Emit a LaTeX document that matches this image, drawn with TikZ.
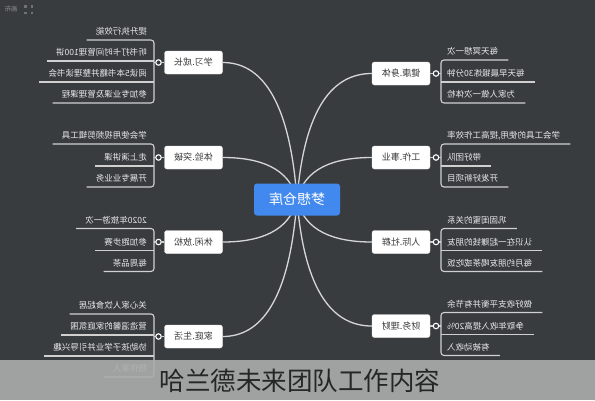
\documentclass[tikz,border=0pt]{standalone}
\usepackage{fontspec}
\usepackage{graphicx}
\usetikzlibrary{calc}
\newfontfamily\cjk{Noto Sans CJK SC}
\definecolor{bg}{HTML}{393C3F}
\definecolor{rootblue}{HTML}{4189EE}
\definecolor{textdark}{HTML}{3A3A3A}
\definecolor{leaftext}{HTML}{E8E8E8}
\definecolor{curvecol}{HTML}{D6D6D6}
\definecolor{twigcol}{HTML}{D0D0D0}
\definecolor{bandcol}{HTML}{ACACAC}
\definecolor{uigray}{HTML}{8A8A8A}
\newcommand\mir[1]{\reflectbox{#1}}
% curve from root centre to a branch anchor
\newcommand\bcurve[1]{\draw[curve] let \p1=(rc), \p2=(#1) in (\p1) .. controls ({\x1+0.1*(\x2-\x1)},{\y1+0.75*(\y2-\y1)}) and ({\x1+0.5*(\x2-\x1)},\y2) .. (\p2);}
% right group with three leaves: id, cy, label, leaves
\newcommand\rightthree[6]{%
  \node[branch] (#1) at (401,#2) {\mir{#3}};
  \node[knob] (#1k) at (436,#2) {};
  \draw[twig] (#1.east) -- (#1k.west);
  \draw[twig] (#1k.east) -- (441,#2);
  \node[leaf,anchor=base west] (#1a) at (447,#2-19) {\mir{#4}};
  \node[leaf,anchor=base west] (#1b) at (447,#2+3) {\mir{#5}};
  \node[leaf,anchor=base west] (#1c) at (447,#2+24) {\mir{#6}};
  \draw[twig] ($(#1a.base east)+(10,5.5)$) -- (441,#2-13.5) -- (441,#2+29.5) -- ($(#1c.base east)+(10,5.5)$);
  \draw[twig] (441,#2+8.5) -- ($(#1b.base east)+(10,5.5)$);
}
\newcommand\leftthree[6]{%
  \node[branch] (#1) at (193.5,#2) {\mir{#3}};
  \node[knob] (#1k) at (158.5,#2) {};
  \draw[twig] (#1.west) -- (#1k.east);
  \draw[twig] (#1k.west) -- (154,#2);
  \node[leaf,anchor=base east] (#1a) at (147,#2-19) {\mir{#4}};
  \node[leaf,anchor=base east] (#1b) at (147,#2+3) {\mir{#5}};
  \node[leaf,anchor=base east] (#1c) at (147,#2+24) {\mir{#6}};
  \draw[twig] ($(#1a.base west)+(-9,5.5)$) -- (154,#2-13.5) -- (154,#2+29.5) -- ($(#1c.base west)+(-9,5.5)$);
  \draw[twig] (154,#2+8.5) -- ($(#1b.base west)+(-9,5.5)$);
}
\newcommand\leftfour[7]{%
  \node[branch] (#1) at (193.5,#2) {\mir{#3}};
  \node[knob] (#1k) at (158.5,#2) {};
  \draw[twig] (#1.west) -- (#1k.east);
  \draw[twig] (#1k.west) -- (154,#2);
  \node[leaf,anchor=base east] (#1a) at (147,#2-28) {\mir{#4}};
  \node[leaf,anchor=base east] (#1b) at (147,#2-7) {\mir{#5}};
  \node[leaf,anchor=base east] (#1c) at (147,#2+14) {\mir{#6}};
  \node[leaf,anchor=base east] (#1d) at (147,#2+35) {\mir{#7}};
  \draw[twig] ($(#1a.base west)+(-9,5.5)$) -- (154,#2-22.5) -- (154,#2+40.5) -- ($(#1d.base west)+(-9,5.5)$);
  \draw[twig] (154,#2-1.5) -- ($(#1b.base west)+(-9,5.5)$);
  \draw[twig] (154,#2+19.5) -- ($(#1c.base west)+(-9,5.5)$);
}
\begin{document}
\begin{tikzpicture}[x=1pt,y=-1pt,font=\cjk,
  branch/.style={draw=white!85!gray,fill=white,rounded corners=2.5pt,minimum width=58pt,minimum height=23pt,inner sep=0pt,text=textdark,font=\cjk\fontsize{9}{10}\selectfont},
  rootbox/.style={fill=rootblue,rounded corners=3pt,minimum width=86pt,minimum height=32pt,inner sep=0pt,text=white,font=\cjk\fontsize{14}{16}\selectfont},
  leaf/.style={inner sep=0pt,text=leaftext,font=\cjk\fontsize{8.5}{9}\selectfont},
  curve/.style={draw=curvecol,line width=1.3pt},
  twig/.style={draw=twigcol,line width=1.1pt,rounded corners=3pt},
  knob/.style={circle,draw=white,fill=bg,line width=1.1pt,minimum size=5.5pt,inner sep=0pt}]
\fill[bg] (0,0) rectangle (595,400);
\useasboundingbox (0,0) rectangle (595,400);
% top-left interface mark
\node[text=uigray,font=\cjk\fontsize{6.5}{7}\selectfont,inner sep=0pt] (ui) at (11,9) {\mir{画布}};
\foreach \px/\py in {24/5,30.5/5,24/11.5,30.5/11.5}
  \fill[uigray!120] (\px,\py) rectangle ++(2.6,2.6);
\coordinate (rc) at (297,199.5);
% right branches
\rightthree{hb}{73.5}{健康.身体}{每天冥想一次}{每天早晨锻炼30分钟}{为家人做一次体检}
\rightthree{wb}{157.5}{工作.事业}{学会工具的使用,提高工作效率}{带好团队}{开发好新项目}
\rightthree{pb}{242}{人际.社群}{巩固闺蜜的关系}{认识在一起赚钱的朋友}{每月约朋友喝茶或吃饭}
\rightthree{fb}{326}{财务.理财}{做好收支平衡并有节余}{争取年收入提高20\%}{有被动收入}
% left branches
\leftfour{lb}{62.5}{学习.成长}{提升执行效能}{听书打卡时间管理100讲}{阅读5本书籍并整理读书会}{参加专业课及管理课程}
\leftthree{eb}{157.5}{体验.突破}{学会使用视频剪辑工具}{走上演讲课}{开展专业业务}
\leftthree{rb}{242}{休闲.放松}{2020年旅游一次}{参加跑步赛}{每周品茶}
\leftfour{jb}{336.5}{家庭.生活}{关心家人饮食起居}{营造温馨的家庭氛围}{协助孩子学业并引导兴趣}{陪伴家人}
% curves from root
\bcurve{hb.west}
\bcurve{wb.west}
\bcurve{pb.west}
\bcurve{fb.west}
\bcurve{lb.east}
\bcurve{eb.east}
\bcurve{rb.east}
\bcurve{jb.east}
\node[rootbox] (root) at (rc) {\mir{梦想仓库}};
% caption band
\fill[bandcol,opacity=0.9] (0,360) rectangle (595,400);
\node[text=black!85,font=\cjk\fontsize{25.5}{27}\selectfont,inner sep=0pt] (cap) at (300,381) {哈兰德未来团队工作内容};
\end{tikzpicture}
\end{document}
